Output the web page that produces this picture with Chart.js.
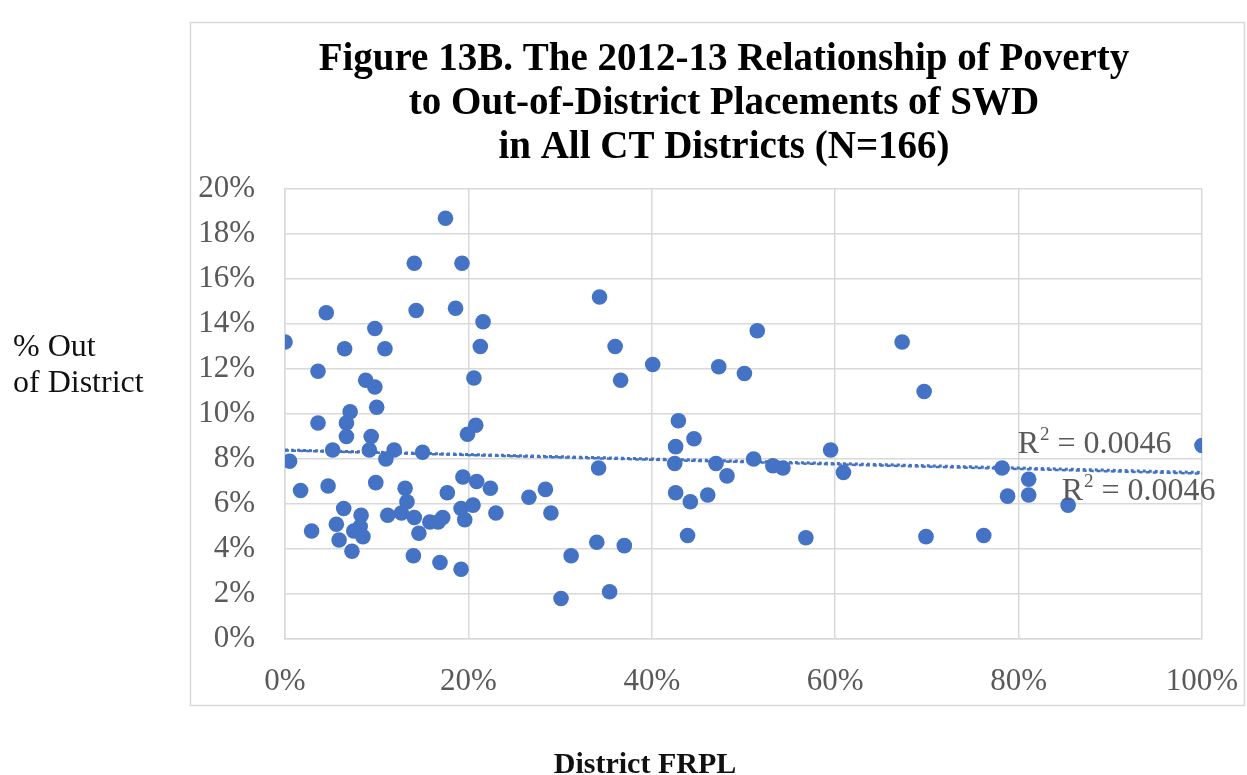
<!DOCTYPE html>
<html lang="en">
<head>
  <meta charset="UTF-8">
  <title>Figure 13B - Poverty vs Out-of-District Placements</title>
  <script src="https://cdn.jsdelivr.net/npm/chart.js"></script>
  <style>
    html, body { margin: 0; padding: 0; background: #fff; }
    #wrap { width: 1247px; height: 775px; position: relative; }
  </style>
</head>
<body>
  <div id="wrap"><canvas id="chart" width="1247" height="775"></canvas></div>

  <script>
    // District FRPL (%) and % out of district
    const frpl = [
      17.5, 14.1, 19.3, 4.5, 14.3, 18.6, 21.6, 9.8, 0.0, 6.5,
      10.9, 21.3, 3.6, 8.8, 9.8, 20.6, 10.0, 7.1, 3.6, 6.7,
      6.7, 9.4, 5.2, 9.2, 11.9, 15.0, 11.0, 0.5, 19.9, 20.8,
      1.7, 4.7, 9.9, 13.1, 13.3, 12.7, 11.2, 14.1, 14.6, 15.8,
      17.2, 16.7, 17.7, 19.4, 20.9, 22.4, 19.2, 20.5, 19.6, 23.0,
      6.4, 8.3, 5.6, 2.9, 5.9, 7.5, 8.2, 8.5, 7.3, 14.0,
      16.9, 19.2,
      34.3, 36.0, 40.1, 36.6, 51.5, 47.3, 50.1, 42.9, 44.6, 42.6,
      42.5, 47.0, 48.2, 51.1, 53.2, 54.3, 59.5, 60.9, 56.8, 34.2,
      42.6, 44.2, 46.1, 43.9, 26.6, 28.4, 29.0, 31.2, 34.0, 37.0,
      30.1, 35.4,
      67.3, 69.7, 100, 78.2, 81.1, 78.8, 81.1, 85.4, 69.9, 76.2
    ];
    const outOfDistrict = [
      18.7, 16.7, 16.7, 14.5, 14.6, 14.7, 14.1, 13.8, 13.2, 12.9,
      12.9, 13.0, 11.9, 11.5, 11.2, 11.6, 10.3, 10.1, 9.6, 9.6,
      9.0, 9.0, 8.4, 8.4, 8.4, 8.3, 8.0, 7.9, 9.1, 9.5,
      6.6, 6.8, 6.95, 6.7, 6.1, 5.6, 5.5, 5.4, 4.7, 5.2,
      5.4, 5.2, 6.5, 7.2, 7.0, 6.7, 5.8, 5.95, 5.3, 5.6,
      5.8, 5.5, 5.1, 4.8, 4.4, 4.8, 5.0, 4.55, 3.9, 3.7,
      3.4, 3.1,
      15.2, 13.0, 12.2, 11.5, 13.7, 12.1, 11.8, 9.7, 8.9, 8.55,
      7.8, 7.8, 7.25, 8.0, 7.7, 7.6, 8.4, 7.4, 4.5, 7.6,
      6.5, 6.1, 6.4, 4.6, 6.3, 6.65, 5.6, 3.7, 4.3, 4.15,
      1.8, 2.1,
      13.2, 11.0, 8.6, 7.6, 7.1, 6.35, 6.4, 5.95, 4.55, 4.6
    ];
    // linear trendlines (two overlapping fits), ends
    const trendX = [0, 100];
    const trendA = [8.4, 7.4];
    const trendB = [8.38, 7.35];
    const rSquared = '0.0046';

    const blue = '#4472C4';
    const grey = '#595959';
    const gridCol = '#d9d9d9';
    const serif = '"Liberation Serif", "DejaVu Serif", serif';

    const points = frpl.map((x, i) => ({ x: x, y: outOfDistrict[i] }));
    const line = ys => trendX.map((x, i) => ({ x: x, y: ys[i] }));

    function drawR2(ctx, x, y) {
      ctx.fillStyle = grey;
      ctx.textBaseline = 'alphabetic';
      ctx.textAlign = 'left';
      ctx.font = '32px ' + serif;
      ctx.fillText('R', x, y);
      let w = ctx.measureText('R').width;
      ctx.font = '19px ' + serif;
      ctx.fillText('2', x + w + 1, y - 13);
      w += ctx.measureText('2').width + 1;
      ctx.font = '32px ' + serif;
      ctx.fillText(' = ' + rSquared, x + w, y);
    }

    const decor = {
      id: 'decor',
      beforeDraw(chart) {
        const ctx = chart.ctx;
        ctx.save();
        ctx.fillStyle = '#fff';
        ctx.fillRect(0, 0, chart.width, chart.height);
        ctx.strokeStyle = gridCol;
        ctx.lineWidth = 1.5;
        ctx.strokeRect(190.5, 22.5, 1054, 683);
        ctx.restore();
      },
      afterDraw(chart) {
        const ctx = chart.ctx;
        const xs = chart.scales.x, ys = chart.scales.y;
        ctx.save();
        // title
        ctx.fillStyle = '#000';
        ctx.textAlign = 'center';
        ctx.textBaseline = 'middle';
        ctx.font = 'bold 39px ' + serif;
        ctx.fillText('Figure 13B. The 2012-13 Relationship of Poverty', 724, 60);
        ctx.fillText('to Out-of-District Placements of SWD', 724, 104);
        ctx.fillText('in All CT Districts (N=166)', 724, 148);
        // axis titles
        ctx.font = '32px ' + serif;
        ctx.textAlign = 'left';
        ctx.textBaseline = 'alphabetic';
        ctx.fillStyle = '#111';
        ctx.fillText('% Out', 13, 356);
        ctx.fillText('of District', 13, 392);
        ctx.font = 'bold 30px ' + serif;
        ctx.textAlign = 'center';
        ctx.fillText('District FRPL', 645, 773);
        // R squared labels
        drawR2(ctx, xs.getPixelForValue(79.9), ys.getPixelForValue(8.27));
        drawR2(ctx, xs.getPixelForValue(84.7), ys.getPixelForValue(6.18));
        ctx.restore();
      }
    };

    new Chart(document.getElementById('chart'), {
      type: 'scatter',
      data: {
        datasets: [
          {
            label: 'Districts',
            data: points,
            backgroundColor: blue,
            borderColor: blue,
            borderWidth: 0,
            pointRadius: 7.8,
            order: 2
          },
          {
            label: 'Trend',
            data: line(trendA),
            showLine: true,
            borderColor: blue,
            borderWidth: 3,
            borderDash: [3, 3],
            pointRadius: 0,
            order: 1
          },
          {
            label: 'Trend 2',
            data: line(trendB),
            showLine: true,
            borderColor: blue,
            borderWidth: 2.5,
            borderDash: [4, 3],
            pointRadius: 0,
            order: 0
          }
        ]
      },
      options: {
        responsive: false,
        animation: false,
        layout: { padding: { top: 189, right: 45, bottom: 0, left: 0 } },
        plugins: {
          legend: { display: false },
          tooltip: { enabled: false },
          title: { display: false }
        },
        scales: {
          x: {
            type: 'linear',
            min: 0,
            max: 100,
            afterFit: s => { s.height = 136; s.paddingLeft = 0; s.paddingRight = 0; },
            ticks: {
              stepSize: 20,
              padding: 24,
              color: grey,
              font: { family: serif, size: 31 },
              callback: v => v + '%'
            },
            grid: { color: gridCol, lineWidth: 1.5, drawTicks: false },
            border: { color: gridCol, width: 1.5 }
          },
          y: {
            min: 0,
            max: 20,
            afterFit: s => { s.width = 285; s.paddingTop = 0; s.paddingBottom = 0; },
            ticks: {
              stepSize: 2,
              padding: 30,
              color: grey,
              font: { family: serif, size: 31 },
              callback: v => v + '%'
            },
            grid: { color: gridCol, lineWidth: 1.5, drawTicks: false },
            border: { color: gridCol, width: 1.5 }
          }
        }
      },
      plugins: [decor]
    });
  </script>
</body>
</html>
